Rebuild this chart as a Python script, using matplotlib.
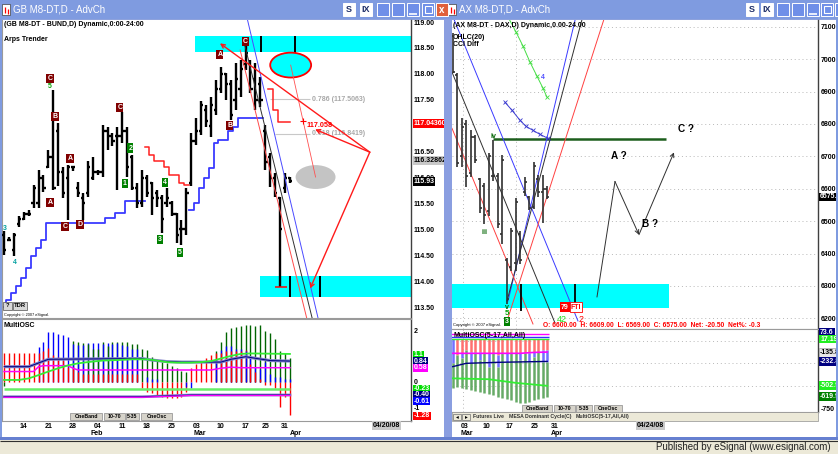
import numpy as np
import matplotlib
matplotlib.use("Agg")
import matplotlib.pyplot as plt
from matplotlib.patches import Rectangle, Ellipse
from matplotlib.transforms import blended_transform_factory as blend

W, H = 838, 454
nan = float('nan')

NARROW = ['Liberation Sans Narrow', 'Liberation Sans', 'DejaVu Sans']
plt.rcParams['font.family'] = NARROW
FS = 5.0   # small chart text

# ---------------- GB M8-DT (Bund) daily, 08 Jan .. 01 Apr 2008 ----------------
gb_high = [114.96, 114.86, 114.93, 115.25, 115.34, 115.38, 115.86, 116.15, 116.05, 116.53,
           117.69, 117.05, 116.21, 116.24, 116.21, 115.92, 115.70, 116.31, 116.40, 116.15,
           117.02, 116.98, 116.86, 116.98, 117.27, 116.98, 116.44, 115.89, 116.15, 116.05,
           115.92, 115.76, 115.67, 115.79, 115.54, 115.31, 115.18, 115.79, 116.86, 117.14,
           117.47, 117.40, 117.56, 117.88, 118.14, 118.01, 117.88, 118.21, 118.27, 118.56,
           118.27, 118.21, 117.94, 117.01, 116.47, 116.09, 115.62, 116.09, 116.01]
gb_low = [114.51, 114.77, 114.48, 115.05, 115.18, 115.25, 115.41, 115.41, 115.73, 116.18,
          115.76, 115.83, 115.60, 115.18, 116.12, 115.63, 115.18, 115.63, 115.96, 116.05,
          116.02, 116.53, 116.60, 115.76, 116.66, 116.02, 115.76, 115.41, 115.44, 115.63,
          115.28, 115.44, 114.93, 115.44, 115.25, 114.73, 114.70, 114.89, 115.83, 116.63,
          116.82, 116.98, 116.79, 117.21, 117.63, 117.50, 117.11, 117.30, 117.55, 118.07,
          117.63, 117.30, 117.36, 116.14, 115.81, 115.62, 113.88, 115.70, 115.89]
gb_open = [114.90, 114.80, 114.60, 115.10, 115.20, 115.30, 115.50, 115.50, 116.00, 116.20,
           116.40, 116.90, 116.10, 116.00, 116.20, 115.80, 115.60, 115.70, 116.00, 116.10,
           116.10, 116.90, 116.80, 116.80, 116.80, 116.90, 116.40, 115.80, 115.50, 116.00,
           115.90, 115.70, 115.60, 115.50, 115.50, 115.30, 115.00, 115.00, 115.90, 116.70,
           116.90, 117.30, 117.00, 117.30, 117.70, 118.00, 117.80, 117.50, 117.70, 118.20,
           118.20, 117.90, 117.80, 116.90, 116.40, 116.00, 115.60, 115.80, 116.00]
gb_close = [114.60, 114.80, 114.90, 115.20, 115.30, 115.30, 115.80, 116.00, 115.80, 116.40,
            115.80, 116.10, 115.70, 116.20, 116.20, 115.70, 115.50, 116.20, 116.10, 116.10,
            116.90, 116.80, 116.70, 116.80, 116.90, 116.20, 115.80, 115.50, 116.00, 115.70,
            115.60, 115.60, 115.20, 115.60, 115.30, 114.90, 115.00, 115.70, 116.70, 116.90,
            117.40, 117.10, 117.40, 117.70, 118.00, 117.80, 117.20, 117.90, 118.10, 118.40,
            117.70, 117.50, 117.50, 116.30, 116.00, 115.70, 115.00, 116.00, 115.93]

# Arps trender steps
gb_trend_up = [113.51, 113.64, 113.77, 113.90, 114.06, 114.25, 114.48, 114.64, 114.80, 115.12,
               115.12, 115.12, 115.12, 115.12, 115.12, 115.12, 115.12, 115.12, 115.12, 115.12,
               115.12, 115.22, 115.22, 115.31, 115.31, 115.54, 115.54, 115.54, 115.54, nan,
               nan, nan, nan, nan, nan, nan, nan, nan, 115.38, 115.51,
               115.79, 115.99, 116.18, 116.66, 116.73, 116.73, 116.89, 116.98, 117.14, 117.14,
               117.14, 117.14, 117.14, nan, nan, nan, nan, nan, nan]
gb_trend_dn = [nan, nan, nan, nan, nan, nan, nan, nan, nan, nan,
               nan, nan, nan, nan, nan, nan, nan, nan, nan, nan,
               nan, nan, nan, nan, nan, nan, nan, nan, nan, 116.59,
               116.44, 116.31, 116.31, 116.21, 116.05, 116.05, 115.89, 115.86, nan, nan,
               nan, nan, nan, nan, nan, nan, nan, nan, nan, nan,
               nan, nan, nan, nan, 117.71, 117.30, 117.07, 117.07, 117.07]

# MultiOSC histograms
gb_osc_green = [-0.15, 0.00, 0.00, 0.00, 0.00, 0.00, 0.00, 0.00, 0.00, 0.00,
                0.00, 0.00, 0.00, 0.00, 1.62, 1.58, 1.52, 1.50, 1.30, 1.30,
                1.55, 1.40, 1.58, 1.55, 1.58, 1.55, 1.50, 1.50, 1.30, 1.25,
                0.97, 0.86, 0.80, 0.73, 0.62, 0.53, 0.42, 0.40, 0.00, 0.00,
                0.00, 0.00, 0.00, 1.20, 1.57, 1.96, 2.10, 2.16, 2.19, 2.22,
                2.22, 2.20, 2.24, 2.00, 1.91, 1.67, 1.20, 1.15, 0.93]
gb_osc_blue = [0.00, 0.00, 0.00, 0.00, 0.00, 0.00, 0.00, 1.38, 1.58, 1.97,
               1.97, 1.90, 1.84, 1.78, 1.50, 1.45, 1.45, 1.52, 1.52, 1.52,
               1.50, 1.52, 1.50, 1.52, 1.45, 1.40, 1.30, 1.30, 0.00, 0.20,
               0.10, 0.10, 0.00, 0.00, 0.00, 0.00, 0.00, -0.20, -0.22, 0.00,
               0.00, 0.00, 0.00, 0.90, 1.25, 1.40, 1.40, 1.30, 1.30, 1.20,
               0.95, 0.60, 0.50, 0.80, 0.30, 0.20, 0.20, 0.10, 0.10]
gb_osc_red = [1.12, 1.12, 1.12, 1.12, 1.12, 1.12, 1.12, 1.15, 1.20, 1.32,
              1.06, 0.99, 0.86, 0.60, 0.60, 0.40, 0.30, 0.30, 0.30, 0.30,
              0.30, 0.30, 0.30, 0.30, 0.30, 0.30, 0.30, 0.30, -0.25, -0.38,
              -0.45, -0.52, -0.58, -0.63, -0.63, -0.63, -0.58, -0.40, 0.55, 0.72,
              0.80, 0.93, 1.06, 1.12, 1.12, 1.20, 1.20, 1.20, 1.20, 1.25,
              0.70, 0.40, 0.10, -0.10, -0.10, -0.25, -0.97, -0.58, -1.29]
# MultiOSC lines (vertices: bar index, value)
gb_slate_x = [0, 5, 9, 28, 30, 33, 36, 44, 46, 49, 51, 54, 58]
gb_slate_y = [0.60, 0.60, 0.89, 0.92, 0.86, 0.80, 0.78, 0.78, 0.89, 0.99, 0.93, 0.84, 0.82]
gb_mag_x = [0, 6, 7, 8, 13, 14, 15, 42, 44, 46, 48, 58]
gb_mag_y = [0.41, 0.41, 0.60, 0.64, 0.64, 0.54, 0.47, 0.47, 0.54, 0.58, 0.56, 0.56]
gb_lime_x = [0, 3, 5, 7, 9, 11, 13, 15, 17, 20, 23, 26, 29, 31, 33, 35, 38, 40, 42, 44, 46, 48, 50, 54, 58]
gb_lime_y = [0.08, 0.08, 0.14, 0.27, 0.41, 0.54, 0.65, 0.73, 0.78, 0.84, 0.86, 0.89, 0.89, 0.84,
             0.78, 0.76, 0.76, 0.78, 0.82, 0.92, 1.02, 1.10, 1.12, 1.11, 1.10]
gb_low_x = [0, 28, 38, 58]
gb_low_slate = [-0.58, -0.58, -0.51, -0.51]
gb_low_mag = [-0.60, -0.60, -0.53, -0.53]
gb_low_lime = -0.27

gb_tick_pos = [4, 9, 14, 19, 24, 29, 34, 39, 44, 49, 53, 57]
gb_tick_lab = ['14', '21', '28', '04', '11', '18', '25', '03', '10', '17', '25', '31']
gb_month_pos = [18.8, 39.8, 59.2]
gb_month_lab = ['Feb', 'Mar', 'Apr']

# drawings on the Bund chart (bar index, price)
gb_zone_top = [38.7, 118.42, 118.73]
gb_zone_bot = [51.9, 113.69, 114.10]
gb_zone_top_marks = [52.1, 59.0]
gb_zone_bot_marks = [58.0, 64.1]
gb_tri_apex = [74.2, 116.49]
gb_tri_x = [43.8, 63.1, 62.1]
gb_tri_y = [118.59, 116.93, 113.86]
gb_chan_x = [[49.3, 63.7], [48.7, 62.5], [47.9, 61.4]]
gb_chan_y = [[119.08, 113.29], [118.61, 113.29], [118.46, 113.29]]
gb_target = [58.15, 118.17]
gb_projection = [63.2, 116.01]
gb_fib_lev = [117.5063, 116.8419]
gb_fib_x0 = [54.0, 55.0]
gb_fib_lab = ['0.786 (117.5063)', '0.618 (116.8419)']
gb_wave_x = [9.33, 10.34, 13.39, 9.33, 12.37, 15.42, 23.5, 45.8, 43.8, 48.9]
gb_wave_y = [117.92, 117.17, 116.37, 115.51, 115.06, 115.10, 117.36, 117.01, 118.38, 118.63]
gb_wave_txt = ['C', 'B', 'A', 'A', 'C', 'D', 'C', 'B', 'A', 'C']
gb_count_x = [25.6, 24.5, 32.7, 31.6, 35.7]
gb_count_y = [116.57, 115.89, 115.91, 114.81, 114.56]
gb_count_txt = ['2', '1', '4', '3', '5']

# ---------------- AX M8-DT (DAX) daily ----------------
ax_high = [7080, 6957, 6817, 6811, 6780, 6765, 6632, 6619, 6709, 6749, 6650,
           6703, 6387, 6480, 6570, 6471, 6635, 6579, 6681, 6641, 6641, 6609]
ax_low = [6957, 6666, 6666, 6604, 6635, 6678, 6526, 6492, 6517, 6625, 6480,
          6430, 6245, 6347, 6347, 6368, 6579, 6533, 6539, 6573, 6495, 6569]
ax_open = [7070, 6950, 6700, 6800, 6650, 6760, 6630, 6610, 6530, 6640, 6640,
           6460, 6380, 6360, 6370, 6460, 6590, 6575, 6545, 6630, 6590, 6600]
ax_close = [6960, 6680, 6790, 6640, 6760, 6690, 6540, 6520, 6700, 6640, 6490,
            6690, 6260, 6470, 6560, 6380, 6620, 6540, 6670, 6590, 6600, 6575]

dx_top = 17.19
dx_red_lo = [17.19, -160, -142, -105, -123, -123, -123, -134, -142, -142, -160,
             -142, -142, -142, -134, -142, -134, -142, -123, -123, -105, -105]
dx_blue_lo = [-254, -160, -197, -105, -253, -123, -216, -134, -290, -142, -290,
              -142, -235, -142, -134, -216, -134, -235, -179, -123, -235, -235]
dx_green_lo = [-531, -520, -531, -542, -549, -557, -568, -586, -597, -605, -623,
               -642, -653, -660, -679, -690, -697, -679, -660, -653, -642, -623]
dx_mag_x = [0, 15, 18, 21]
dx_mag_y = [-142, -142, -132, -128]
dx_navy_x = [0, 3, 10, 21]
dx_navy_y = [-290, -253, -242, -232]
dx_lime_x = [0, 8, 14, 21]
dx_lime_y = [-420, -430, -470, -503]
dx_top_lines = [70, 40, 17.19]

ax_tick_pos = [2.7, 7.6, 12.7, 18.3, 22.7]
ax_tick_lab = ['03', '10', '17', '25', '31']
ax_month_pos = [3.2, 23.2]
ax_month_lab = ['Mar', 'Apr']

ax_zone = [-0.2, 48.07, 6232.2, 6306.5]
ax_zone_marks = [15.18, 27.18]
ax_res_level = 6752.3
ax_res_x = [8.96, 47.4]
ax_path_x = [32.07, 36.07, 41.4, 49.18]
ax_path_y = [6266.3, 6622.3, 6458.2, 6712.1]
ax_q_x = [37.0, 43.84, 51.84]
ax_q_y = [6699.7, 6492.3, 6783.3]
ax_q_txt = ['A ?', 'B ?', 'C ?']
ax_chan_x = [[0.07, 27.84], [12.3, 27.2], [-0.16, 22.73], [12.07, 29.0], [-0.16, 17.84], [12.07, 33.78]]
ax_chan_y = [[7130, 6192], [6253.9, 7120.7], [6959.8, 6185.8], [6253.9, 7136], [6786.4, 6182.7], [6192, 7130]]
ax_chan_col = ['#3a3aff', '#3a3aff', '#303030', '#303030', '#ff4040', '#ff4040']
ax_arc_g_x = [12.29, 14.07, 15.62, 17.18, 18.73, 20.07, 20.96]
ax_arc_g_y = [7130, 7083.6, 7040.2, 6990.7, 6947.4, 6910.2, 6882.4]
ax_arc_b_x = [11.62, 13.18, 14.96, 16.29, 17.84, 19.4, 21.18]
ax_arc_b_y = [6866.9, 6842.1, 6811.1, 6792.6, 6780.2, 6767.8, 6755.4]

# ---------------------------------------------------------------------------
fig = plt.figure(figsize=(W / 100, H / 100), dpi=100)
fig.patch.set_facecolor('#8ea2dc')


def px_axes(x0, y0, x1, y1, z=1):
    return fig.add_axes([x0 / W, 1 - y1 / H, (x1 - x0) / W, (y1 - y0) / H], zorder=z)


def chrome(z):
    a = px_axes(0, 0, W, H, z=z)
    a.set_xlim(0, W)
    a.set_ylim(H, 0)
    a.axis('off')
    a.patch.set_alpha(0)
    return a


def ohlc(ax, o, h, l, c, color, lw, tick):
    xs = np.arange(len(h))
    o = np.clip(o, l, h)
    c = np.clip(c, l, h)
    ax.vlines(xs, l, h, color=color, lw=lw, zorder=4)
    ax.hlines(o, xs - tick, xs, color=color, lw=lw, zorder=4)
    ax.hlines(c, xs, xs + tick, color=color, lw=lw, zorder=4)


def side_tag(ax, y, s, fc, tc='white', ec='none'):
    ax.text(1.006, y, s, transform=blend(ax.transAxes, ax.transData), fontsize=FS,
            fontweight='bold', color=tc, ha='left', va='center', clip_on=False, zorder=6,
            bbox=dict(boxstyle='square,pad=0.12', fc=fc, ec=ec, lw=0.5))


def box_tag(ax, x, y, s, fc, tc='white', fs=FS, ec='none'):
    ax.text(x, y, s, fontsize=fs, fontweight='bold', color=tc, ha='center', va='center', zorder=7,
            bbox=dict(boxstyle='square,pad=0.15', fc=fc, ec=ec, lw=0.6))


def frame(ax, right='#404040'):
    ax.set_facecolor('white')
    for k in ('top', 'left', 'bottom'):
        ax.spines[k].set_color('#9a9a9a')
        ax.spines[k].set_linewidth(0.8)
    ax.spines['top'].set_visible(False)
    ax.spines['right'].set_color(right)
    ax.spines['right'].set_linewidth(1.0)
    ax.tick_params(axis='both', length=0, labelsize=FS, pad=2)
    ax.set_xticks([])


scr = chrome(0)
scr.add_patch(Rectangle((2, 20), 442, 417, fc='white', ec='none'))
scr.add_patch(Rectangle((452, 20), 384, 417, fc='white', ec='none'))

# ===================== left: Bund price =====================
axL = px_axes(2, 20, 411, 318, z=5)
frame(axL)
axL.set_xlim(-0.41, 82.56)
axL.set_ylim(113.29, 119.04)
gb_yt = np.arange(113.5, 119.01, 0.5)
axL.yaxis.tick_right()
axL.set_yticks(gb_yt, [f'{v:.2f}' for v in gb_yt], fontweight='bold')

axL.add_patch(Rectangle((gb_zone_top[0], gb_zone_top[1]), 90, gb_zone_top[2] - gb_zone_top[1],
                        fc='#00ffff', ec='none', zorder=1))
axL.add_patch(Rectangle((gb_zone_bot[0], gb_zone_bot[1]), 90, gb_zone_bot[2] - gb_zone_bot[1],
                        fc='#00ffff', ec='none', zorder=1))
axL.vlines(gb_zone_top_marks, gb_zone_top[1], gb_zone_top[2], color='black', lw=1.4, zorder=3)
axL.vlines(gb_zone_top_marks[1], gb_target[1] + 0.24, gb_zone_top[1], color='black', lw=1.4, zorder=3)
axL.vlines(gb_zone_bot_marks, gb_zone_bot[1], gb_zone_bot[2], color='black', lw=1.4, zorder=3)

axL.step(np.arange(len(gb_trend_up)), gb_trend_up, where='mid', color='#3a3aff', lw=1.3, zorder=3)
axL.step(np.arange(len(gb_trend_dn)), gb_trend_dn, where='mid', color='#ff2020', lw=1.1, zorder=3)

for (cx, cy), col in zip(zip(gb_chan_x, gb_chan_y), ['#4a4aff', '#303030', '#ff4a4a']):
    axL.plot(cx, cy, color=col, lw=0.7, zorder=5)

ohlc(axL, gb_open, gb_high, gb_low, gb_close, 'black', 1.7, 0.45)
axL.hlines(gb_low[56], 55.0, 57.4, color='red', lw=1.1, zorder=5)

axL.add_patch(Ellipse(gb_target, 8.3, 0.48, fc='#00ffff', ec='red', lw=1.3, zorder=4))
axL.add_patch(Ellipse(gb_projection, 8.1, 0.46, fc='#c4c4c4', ec='none', zorder=2))
axL.plot([gb_target[0], gb_projection[0]], [gb_target[1], gb_projection[1]], color='#ff5050', lw=0.6, zorder=5)

for lev, x0, lab in zip(gb_fib_lev, gb_fib_x0, gb_fib_lab):
    axL.hlines(lev, x0, 62.1, color='#c8c8c8', lw=0.8, zorder=2)
    axL.text(62.4, lev, lab, color='#a8a8a8', fontsize=FS, fontweight='bold', va='center', zorder=3)

for ex, ey in zip(gb_tri_x, gb_tri_y):
    axL.annotate('', xy=(ex, ey), xytext=gb_tri_apex, zorder=6,
                 arrowprops=dict(arrowstyle='->', color='#ff1a1a', lw=1.0, shrinkA=0, shrinkB=0,
                                 mutation_scale=7))
axL.plot([60.6], [117.09], marker='+', color='red', ms=4, mew=0.8, zorder=6)
axL.text(61.3, 117.01, '117.058', color='red', fontsize=5.2, fontweight='bold', va='center', zorder=6)

for x, y, s in zip(gb_wave_x, gb_wave_y, gb_wave_txt):
    box_tag(axL, x, y, s, '#800000')
for x, y, s in zip(gb_count_x, gb_count_y, gb_count_txt):
    box_tag(axL, x, y, s, '#008000')
axL.text(9.33, 117.76, '5', color='#00a000', fontsize=FS, fontweight='bold', ha='center', va='center')
axL.text(0.2, 115.02, '3', color='#00a0a0', fontsize=FS, fontweight='bold', ha='center', va='center')
axL.text(2.2, 114.37, '4', color='#00a0a0', fontsize=FS, fontweight='bold', ha='center', va='center')

axL.text(0.004, 0.995, '(GB M8-DT - BUND,D) Dynamic,0:00-24:00', transform=axL.transAxes,
         fontsize=FS, fontweight='bold', va='top', ha='left')
axL.text(0.004, 0.945, 'Arps Trender', transform=axL.transAxes, fontsize=FS, fontweight='bold',
         va='top', ha='left')
axL.text(0.004, 0.011, 'Copyright \u00a9 2007 eSignal.', transform=axL.transAxes, fontsize=2.8,
         va='center', ha='left')

side_tag(axL, 117.0436, '117.043607', '#ff0000')
side_tag(axL, 116.3286, '116.328624', '#c8c8c8', tc='black')
side_tag(axL, 115.93, '115.93', '#000000')

# ===================== left: MultiOSC =====================
axLo = px_axes(2, 319, 411, 421, z=5)
frame(axLo)
axLo.spines['top'].set_visible(True)
axLo.set_xlim(-0.41, 82.56)
axLo.set_ylim(-1.53, 2.47)
axLo.yaxis.tick_right()
axLo.set_yticks([2, 0, -1], ['2', '0', '-1'], fontweight='bold')
for i in range(len(gb_osc_red)):
    parts = sorted([(gb_osc_green[i], '#006400'), (gb_osc_blue[i], '#0000ff'), (gb_osc_red[i], '#ff0000')],
                   key=lambda t: -abs(t[0]))
    for v, col in parts:
        if v != 0:
            axLo.vlines(i, 0, v, color=col, lw=1.0, zorder=2)
axLo.plot(gb_slate_x, gb_slate_y, color='#8080c8', lw=2.2, zorder=3, solid_capstyle='butt')
axLo.plot(gb_slate_x, gb_slate_y, color='#000080', lw=0.7, zorder=3)
axLo.plot(gb_mag_x, gb_mag_y, color='#ff00ff', lw=1.1, zorder=3)
axLo.plot(gb_lime_x, gb_lime_y, color='#33ee33', lw=1.3, zorder=3)
axLo.hlines(gb_low_lime, 0, 58, color='#66ee66', lw=1.8, zorder=3)
axLo.plot(gb_low_x, gb_low_slate, color='#8080c8', lw=2.0, zorder=3)
axLo.plot(gb_low_x, gb_low_slate, color='#000080', lw=0.7, zorder=3)
axLo.plot(gb_low_x, gb_low_mag, color='#ff00ff', lw=0.9, zorder=3)
axLo.text(0.004, 0.97, 'MultiOSC', transform=axLo.transAxes, fontsize=FS, fontweight='bold', va='top')
side_tag(axLo, 1.06, '1.1', '#00dd00')
side_tag(axLo, 0.82, '0.84', '#000080')
side_tag(axLo, 0.55, '0.58', '#ff00ff')
side_tag(axLo, -0.27, '-0.23', '#00dd00')
side_tag(axLo, -0.51, '-0.40', '#000080')
side_tag(axLo, -0.75, '-0.61', '#0000ff')
side_tag(axLo, -1.33, '-1.28', '#ff0000')
axLo.set_xticks(gb_tick_pos, gb_tick_lab, fontweight='bold')
axLo.tick_params(axis='x', length=0, pad=1.5, labelsize=FS)
for x, s in zip(gb_month_pos, gb_month_lab):
    axLo.text(x, -0.12, s, transform=blend(axLo.transData, axLo.transAxes), fontsize=FS,
              fontweight='bold', ha='center', va='center', clip_on=False)

# ===================== right: DAX price =====================
axR = px_axes(452, 20, 818, 329, z=5)
frame(axR)
axR.spines['left'].set_visible(False)
axR.set_xlim(-0.16, 81.2)
axR.set_ylim(6167.2, 7120.7)
ax_yt = np.arange(6200, 7101, 100)
axR.yaxis.tick_right()
axR.set_yticks(ax_yt, [f'{v:.2f}' for v in ax_yt], fontweight='bold')
axR.hlines(ax_yt, -0.16, 81.2, color='#b8b8b8', lw=0.7, linestyles=(0, (1, 3)), zorder=0)
axR.vlines([2.3, 14.0], 6167.2, 7120.7, color='#b8b8b8', lw=0.7, linestyles=(0, (1, 3)), zorder=0)

axR.add_patch(Rectangle((ax_zone[0], ax_zone[2]), ax_zone[1] - ax_zone[0], ax_zone[3] - ax_zone[2],
                        fc='#00ffff', ec='none', zorder=1))
axR.vlines(ax_zone_marks, ax_zone[2] - 8, ax_zone[3], color='black', lw=1.3, zorder=4)
axR.hlines(ax_res_level, ax_res_x[0], ax_res_x[1], color='#1d5e1d', lw=1.8, zorder=3)

for cx, cy, col in zip(ax_chan_x, ax_chan_y, ax_chan_col):
    axR.plot(cx, cy, color=col, lw=0.7, zorder=3)
axR.plot(ax_arc_g_x, ax_arc_g_y, color='#44dd44', lw=0.7, marker='x', ms=2.5, mew=0.6, zorder=3)
axR.plot(ax_arc_b_x, ax_arc_b_y, color='#3a3ad0', lw=0.7, marker='x', ms=2.5, mew=0.6, zorder=3)
axR.text(20.07, 6944, '4', color='#5050ff', fontsize=FS, fontweight='bold', ha='center', va='center')

ohlc(axR, ax_open, ax_high, ax_low, ax_close, '#303030', 1.2, 0.45)

axR.plot(ax_path_x[:2], ax_path_y[:2], color='#303030', lw=0.7, zorder=3)
for k in (1, 2):
    axR.annotate('', xy=(ax_path_x[k + 1], ax_path_y[k + 1]), xytext=(ax_path_x[k], ax_path_y[k]),
                 arrowprops=dict(arrowstyle='->', color='#303030', lw=0.7, shrinkA=0, shrinkB=0,
                                 mutation_scale=7))
for x, y, s in zip(ax_q_x, ax_q_y, ax_q_txt):
    axR.text(x, y, s, fontsize=7.2, fontweight='bold', family=['Liberation Sans', 'DejaVu Sans'],
             ha='center', va='center')

axR.text(6.96, 6464, 'iii', color='#006400', fontsize=FS, fontweight='bold', ha='center', va='center')
axR.text(8.96, 6762, 'iv', color='#006400', fontsize=FS, fontweight='bold', ha='center', va='center')
axR.text(12.07, 6235, 'v', color='#006400', fontsize=FS, fontweight='bold', ha='center', va='center')
axR.text(12.07, 6214, '5', color='#00a000', fontsize=5.8, fontweight='bold', ha='center', va='center')
box_tag(axR, 12.07, 6189, '3', '#008000')
box_tag(axR, 24.96, 6235, '79', '#ff0000')
box_tag(axR, 27.4, 6235, 'FTI', 'white', tc='#ff0000', ec='#ff0000')
axR.text(24.18, 6197, '42', color='#22dd22', fontsize=6.5, ha='center', va='center', zorder=7)
axR.text(28.5, 6197, '2', color='#ff0000', fontsize=6.5, ha='center', va='center', zorder=7)

axR.text(0.003, 0.995, '(AX M8-DT - DAX,D) Dynamic,0.00-24.00', transform=axR.transAxes,
         fontsize=FS, fontweight='bold', va='top')
axR.text(0.003, 0.955, 'OHLC(20)\nCCI Diff', transform=axR.transAxes, fontsize=FS,
         fontweight='bold', va='top', linespacing=1.05)
axR.text(0.003, 0.006, 'Copyright \u00a9 2007 eSignal.', transform=axR.transAxes, fontsize=3.0,
         va='bottom')
axR.text(0.248, 0.0, 'O: 6600.00  H: 6609.00  L: 6569.00  C: 6575.00  Net: -20.50  Net%: -0.3',
         transform=axR.transAxes, fontsize=4.8, fontweight='bold', color='#ff0000', va='bottom', zorder=7)
side_tag(axR, 6575, '6575.00', '#000000')

# ===================== right: MultiOSC =====================
axRo = px_axes(452, 329, 818, 412, z=5)
frame(axRo)
axRo.spines['top'].set_visible(True)
axRo.spines['left'].set_visible(False)
axRo.set_xlim(-0.16, 81.2)
axRo.set_ylim(-793.9, 128.3)
axRo.yaxis.tick_right()
axRo.set_yticks([-750], ['-750'], fontweight='bold')
axRo.hlines([0, -250, -500], -0.16, 81.2, color='#b8b8b8', lw=0.7, linestyles=(0, (1, 3)), zorder=0)
axRo.vlines([2.3], -793.9, 128.3, color='#b8b8b8', lw=0.7, linestyles=(0, (1, 3)), zorder=0)
xs = np.arange(len(dx_red_lo))
axRo.vlines(xs, dx_red_lo, dx_top, color='#ff7070', lw=1.8, zorder=2)
axRo.vlines(xs, dx_blue_lo, dx_red_lo, color='#7070ff', lw=1.8, zorder=2)
axRo.vlines(xs, dx_green_lo, dx_blue_lo, color='#66aa66', lw=1.8, zorder=2)
for lev, col in zip(dx_top_lines, ['#ff00ff', '#3030ff', '#33ee33']):
    axRo.hlines(lev, -0.5, 21.5, color=col, lw=1.0, zorder=3)
axRo.plot(dx_mag_x, dx_mag_y, color='#ff00ff', lw=1.2, zorder=3)
axRo.plot(dx_navy_x, dx_navy_y, color='#000080', lw=1.0, zorder=3)
axRo.plot(dx_lime_x, dx_lime_y, color='#33ee33', lw=1.3, zorder=3)
axRo.text(0.003, 0.96, 'MultiOSC(5-17,All,All)', transform=axRo.transAxes, fontsize=FS,
          fontweight='bold', va='top', zorder=6)
side_tag(axRo, 88, '73.6', '#000080')
side_tag(axRo, 17.19, '17.19', '#22ee22')
side_tag(axRo, -135.8, '-135.8', '#e8e8e8', tc='black', ec='#a0a0a0')
side_tag(axRo, -232.8, '-232.8', '#000080')
side_tag(axRo, -502.9, '-502.9', '#22ee22')
side_tag(axRo, -619.9, '-619.9', '#008000')
axRo.set_xticks(ax_tick_pos, ax_tick_lab, fontweight='bold')
axRo.tick_params(axis='x', length=0, pad=8.2, labelsize=FS)
for x, s in zip(ax_month_pos, ax_month_lab):
    axRo.text(x, -0.255, s, transform=blend(axRo.transData, axRo.transAxes), fontsize=FS,
              fontweight='bold', ha='center', va='center', clip_on=False)

# ===================== window chrome =====================
top = chrome(20)
UIF = ['Liberation Sans', 'DejaVu Sans']
TB = '#7f9be0'
for x0, x1, title in ((0, 446, 'GB M8-DT,D - AdvCh'), (446, 838, 'AX M8-DT,D - AdvCh')):
    top.add_patch(Rectangle((x0, 0), x1 - x0, 19, fc=TB, ec='none'))
    top.add_patch(Rectangle((x0 + 2, 4), 8, 11, fc='white', ec='#404040', lw=0.5))
    top.vlines([x0 + 4.5, x0 + 7.5], [7, 9], [13, 14], color='red', lw=0.9)
    top.text(x0 + 13, 10, title, color='white', fontsize=7.0, family=UIF, va='center')
for bx in (343, 360, 377, 392, 407, 422, 746, 761, 777, 792, 807, 821, 835):
    face = 'white' if bx in (343, 360, 746, 761) else '#6f8fe8'
    top.add_patch(Rectangle((bx, 3), 12, 13, fc=face, ec='white', lw=0.7))
for bx, s in ((349, 'S'), (366, 'IX'), (752, 'S'), (767, 'IX')):
    top.text(bx, 9.8, s, fontsize=6.5, fontweight='bold', family=UIF, ha='center', va='center', color='#20306a')
top.add_patch(Rectangle((436, 3), 12, 13, fc='#e0603a', ec='white', lw=0.7))
top.text(442, 9.6, 'x', fontsize=7, color='white', fontweight='bold', family=UIF, ha='center', va='center')
top.hlines([13.5, 13.5], [409, 809], [417, 817], color='white', lw=1.2)
top.add_patch(Rectangle((424.5, 6), 7, 7, fc='none', ec='white', lw=0.8))
top.add_patch(Rectangle((823.5, 6), 7, 7, fc='none', ec='white', lw=0.8))

# borders between / around windows
top.add_patch(Rectangle((0, 19), 2, 420, fc=TB, ec='none'))
top.add_patch(Rectangle((444, 19), 8, 420, fc='#8a9ee0', ec='none'))
top.add_patch(Rectangle((836, 19), 2, 420, fc=TB, ec='none'))
top.add_patch(Rectangle((0, 437), W, 3, fc='#6680d0', ec='none'))
top.add_patch(Rectangle((0, 440), W, 14, fc='#ece9d8', ec='none'))
top.hlines(440.5, 0, W, color='#303030', lw=0.8)
top.text(831, 447.5, 'Published by eSignal (www.esignal.com)', fontsize=7, family=UIF,
         ha='right', va='center', color='#222222')

# small help boxes, buttons and date boxes
for bx, bw, s in ((3, 9, '?'), (13, 14, 'TDR')):
    top.add_patch(Rectangle((bx, 302), bw, 7.5, fc='#d8d8d8', ec='#505050', lw=0.5))
    top.text(bx + bw / 2, 305.9, s, fontsize=4.2, fontweight='bold', ha='center', va='center')
for bx, bw, s in ((70, 32, 'OneBand'), (104, 21, '10-70'), (126, 13, '5-35'), (141, 31, 'OneOsc'),
                  (522, 30, 'OneBand'), (554, 21, '10-70'), (576, 16, '5-35'), (594, 28, 'OneOsc')):
    by = 413 if bx < 400 else 404.5
    top.add_patch(Rectangle((bx, by), bw, 7, fc='#d6d3ca', ec='#8a8a8a', lw=0.5))
    top.text(bx + bw / 2, by + 3.6, s, fontsize=3.8, fontweight='bold', ha='center', va='center')
top.add_patch(Rectangle((452, 412), 366, 9, fc='#ece9d8', ec='#909090', lw=0.5))
for bx in (453, 462):
    top.add_patch(Rectangle((bx, 413.5), 8, 6.5, fc='#ece9d8', ec='#707070', lw=0.5))
top.text(457, 416.8, '\u25c2', fontsize=4, ha='center', va='center')
top.text(466, 416.8, '\u25b8', fontsize=4, ha='center', va='center')
for tx, s in ((473, 'Futures Live'), (509, 'MESA Dominant Cycle(C)'), (576, 'MultiOSC(5-17,All,All)')):
    top.text(tx, 416.8, s, fontsize=3.7, fontweight='bold', va='center', color='#303030')
for bx, s in ((372, '04/20/08'), (636, '04/24/08')):
    top.add_patch(Rectangle((bx, 421), 29, 9, fc='#c8c8c8', ec='none'))
    top.text(bx + 14.5, 425.7, s, fontsize=FS, fontweight='bold', ha='center', va='center')

fig.savefig('out.png', dpi=100, facecolor=fig.get_facecolor())
